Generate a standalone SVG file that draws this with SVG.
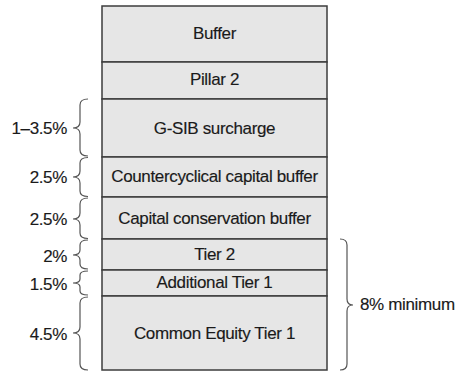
<svg xmlns="http://www.w3.org/2000/svg" width="456" height="372" viewBox="0 0 456 372">
<style>
.row{fill:#e6e6e6;stroke:#3c3c3c;stroke-width:1.5}
.t,.l,.r{font-family:"Liberation Sans",Arial,sans-serif;font-size:17px;fill:#1a1a1a;letter-spacing:-0.35px;stroke:#1a1a1a;stroke-width:0.15}
.t{text-anchor:middle}
.l{text-anchor:end}
.r{text-anchor:start}
.b{fill:none;stroke:#555;stroke-width:1.2}
</style>
<rect x="0" y="0" width="456" height="372" fill="#fff"/>
<g id="buffer"><rect class="row" x="102" y="6" width="225" height="56"/><text class="t" x="214.5" y="39">Buffer</text></g>
<g id="pillar2"><rect class="row" x="102" y="62" width="225" height="37"/><text class="t" x="214.5" y="85">Pillar 2</text></g>
<g id="gsib"><rect class="row" x="102" y="99" width="225" height="58"/><text class="t" x="214.5" y="134">G-SIB surcharge</text></g>
<g id="countercyclical"><rect class="row" x="102" y="157" width="225" height="40"/><text class="t" x="214.5" y="182">Countercyclical capital buffer</text></g>
<g id="conservation"><rect class="row" x="102" y="197" width="225" height="42"/><text class="t" x="214.5" y="224">Capital conservation buffer</text></g>
<g id="tier2"><rect class="row" x="102" y="239" width="225" height="31"/><text class="t" x="214.5" y="260">Tier 2</text></g>
<g id="at1"><rect class="row" x="102" y="270" width="225" height="26"/><text class="t" x="214.5" y="288">Additional Tier 1</text></g>
<g id="cet1"><rect class="row" x="102" y="296" width="225" height="74"/><text class="t" x="214.5" y="339">Common Equity Tier 1</text></g>
<g id="connectors">
<path class="b" d="M88 99 Q80 99 80 105 L80 122 Q80 128 73 128 Q80 128 80 134 L80 150 Q80 156 88 156"/>
<path class="b" d="M88 157.5 Q80 157.5 80 163 L80 171 Q80 177 73 177 Q80 177 80 183 L80 191 Q80 196.5 88 196.5"/>
<path class="b" d="M88 198 Q80 198 80 204 L80 213 Q80 219 73 219 Q80 219 80 225 L80 233 Q80 238.5 88 238.5"/>
<path class="b" d="M88 240 Q80 240 80 245 L80 250 Q80 255 73 255 Q80 255 80 260 L80 264 Q80 269 88 269"/>
<path class="b" d="M88 271 Q80 271 80 275 L80 279 Q80 283 73 283 Q80 283 80 287 L80 291 Q80 295 88 295"/>
<path class="b" d="M88 297 Q80 297 80 303 L80 327 Q80 333 73 333 Q80 333 80 339 L80 364 Q80 370 88 370"/>
<path class="b" d="M340 239 Q347 239 347 245 L347 299 Q347 305 353 305 Q347 305 347 311 L347 364 Q347 370 340 370"/>
</g>
<g id="labels">
<text class="l" x="67" y="134">1–3.5%</text>
<text class="l" x="67" y="183">2.5%</text>
<text class="l" x="67" y="225">2.5%</text>
<text class="l" x="67" y="262">2%</text>
<text class="l" x="67" y="290">1.5%</text>
<text class="l" x="67" y="340">4.5%</text>
<text class="r" x="360" y="310">8% minimum</text>
</g>
</svg>
